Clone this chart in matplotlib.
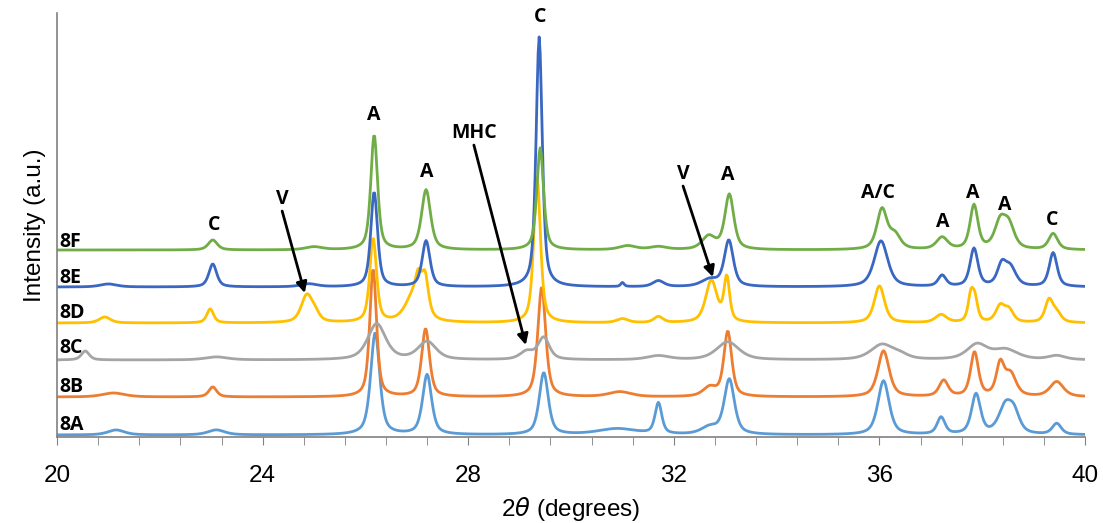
import numpy as np
import matplotlib
matplotlib.use("Agg")
import matplotlib.pyplot as plt

# peak tables: (2theta, height, half width); heights in plot units
samples = ["8A", "8B", "8C", "8D", "8E", "8F"]
colors = ["#5B9BD5", "#ED7D31", "#A5A5A5", "#FFC000", "#3A67C2", "#70AD47"]
offsets = [2, 40, 77, 114, 150, 187]

peaks_8A = [(21.15, 5, 0.15), (23.1, 5, 0.15), (26.19, 102, 0.08), (27.2, 60, 0.08),
            (29.47, 62, 0.08), (30.9, 6, 0.35), (31.7, 31, 0.06), (32.7, 7, 0.15),
            (33.08, 55, 0.09), (36.08, 54, 0.1), (37.2, 17, 0.07), (37.88, 40, 0.08),
            (38.45, 27, 0.12), (38.62, 18, 0.1), (39.45, 11, 0.08)]
peaks_8B = [(21.1, 4, 0.2), (23.03, 10, 0.07), (26.15, 128, 0.06), (27.17, 68, 0.07),
            (29.43, 110, 0.07), (30.95, 5, 0.2), (32.7, 9, 0.12), (33.05, 65, 0.07),
            (36.08, 46, 0.1), (37.25, 16, 0.08), (37.85, 44, 0.07), (38.35, 31, 0.07),
            (38.55, 22, 0.1), (39.45, 15, 0.12)]
peaks_8C = [(20.55, 9, 0.07), (23.1, 3, 0.2), (26.22, 36, 0.16), (27.2, 18, 0.16),
            (29.14, 8, 0.12), (29.47, 22, 0.1), (31.7, 4, 0.2), (33.05, 18, 0.2),
            (36.05, 15, 0.2), (36.4, 4, 0.15), (37.9, 15, 0.18), (38.45, 10, 0.22),
            (39.45, 4, 0.15)]
peaks_8D = [(20.93, 6, 0.1), (22.98, 14, 0.06), (24.86, 27, 0.1), (25.02, 7, 0.08),
            (26.15, 84, 0.06), (26.95, 28, 0.15), (27.03, 22, 0.05), (27.16, 36, 0.06),
            (29.34, 145, 0.06), (31.0, 4, 0.1), (31.7, 6, 0.08), (32.73, 42, 0.1),
            (33.03, 44, 0.05), (36.0, 37, 0.09), (37.2, 8, 0.1), (37.78, 26, 0.05),
            (37.86, 20, 0.05), (38.35, 16, 0.08), (38.52, 12, 0.08), (39.3, 22, 0.07),
            (39.45, 9, 0.08)]
peaks_8E = [(21.0, 3, 0.15), (23.03, 23, 0.07), (24.9, 3, 0.15), (26.17, 95, 0.06),
            (27.18, 46, 0.07), (29.38, 250, 0.055), (31.0, 4, 0.03), (31.7, 6, 0.1),
            (32.7, 7, 0.15), (33.07, 46, 0.08), (36.03, 46, 0.12), (37.22, 11, 0.07),
            (37.84, 38, 0.07), (38.38, 20, 0.08), (38.55, 18, 0.1), (39.38, 34, 0.07)]
peaks_8F = [(23.03, 10, 0.08), (25.0, 3, 0.15), (26.17, 115, 0.06), (27.18, 60, 0.08),
            (29.4, 102, 0.06), (31.1, 4, 0.15), (31.7, 3, 0.15), (32.68, 13, 0.12),
            (33.08, 55, 0.08), (36.05, 40, 0.09), (36.3, 14, 0.1), (37.22, 12, 0.1),
            (37.84, 44, 0.07), (38.35, 26, 0.1), (38.52, 22, 0.1), (39.38, 16, 0.08)]
peak_tables = [peaks_8A, peaks_8B, peaks_8C, peaks_8D, peaks_8E, peaks_8F]

# phase labels: (text, 2theta, height)
phase_labels = [("C", 23.05, 212), ("A", 26.17, 322), ("A", 27.2, 265), ("C", 29.4, 420),
                ("A", 33.05, 262), ("A/C", 35.97, 244), ("A", 37.24, 215),
                ("A", 37.82, 244), ("A", 38.44, 232), ("C", 39.36, 217)]
# arrows: (text, tail x, tail y, head x, head y)
arrow_labels = [("V", 24.38, 226, 24.82, 144), ("MHC", 28.11, 292, 29.12, 92),
                ("V", 32.18, 251, 32.76, 160)]
sample_label_y = [12, 50, 89, 124, 159, 195]

two_theta = np.arange(20, 40.001, 0.02)


def pattern(peaks):
    # pseudo-Voigt style: lorentzian plus a gaussian body so the peaks are not needle thin
    y = np.zeros_like(two_theta)
    for c, h, w in peaks:
        w = w * 1.3
        lor = 1 / (1 + ((two_theta - c) / w) ** 2)
        gau = np.exp(-np.log(2) * ((two_theta - c) / w) ** 2)
        y += h * (0.6 * lor + 0.4 * gau)
    return y


fig, ax = plt.subplots(figsize=(11.03, 5.23), dpi=100)
fig.subplots_adjust(left=0.0517, right=0.9837, bottom=0.1644, top=0.975)

for name, col, off, peaks in zip(samples, colors, offsets, peak_tables):
    ax.plot(two_theta, pattern(peaks) + off, color=col, lw=2)

lab_font = dict(family="Open Sans", weight="bold", fontsize=14)
for name, y in zip(samples, sample_label_y):
    ax.text(20.04, y, name, ha="left", va="center", **lab_font)
for txt, x, y in phase_labels:
    ax.text(x, y, txt, ha="center", va="center", **lab_font)
for txt, x0, y0, x1, y1 in arrow_labels:
    ax.annotate("", xy=(x1, y1), xytext=(x0, y0),
                arrowprops=dict(arrowstyle="-|>", color="black", lw=2,
                                mutation_scale=16, shrinkA=0, shrinkB=0))
    ax.text(x0, y0 + 12, txt, ha="center", va="center", **lab_font)

ax.set_xlim(20, 40)
ax.set_ylim(0, 424)
ax.set_xticks(np.arange(20, 40.01, 0.8), minor=True)
ax.set_xticks([20, 24, 28, 32, 36, 40])
ax.tick_params(axis="x", which="both", direction="out", length=6, color="#808080",
               labelsize=17.5, pad=14)
ax.set_yticks([])
for s in ["top", "right"]:
    ax.spines[s].set_visible(False)
for s in ["left", "bottom"]:
    ax.spines[s].set_color("#808080")
    ax.spines[s].set_linewidth(1.2)
for lbl in ax.get_xticklabels():
    lbl.set_family("Liberation Sans")

ax.set_xlabel(r"2$\theta$ (degrees)", fontsize=17.5, family="Liberation Sans", labelpad=6)
ax.set_ylabel("Intensity (a.u.)", fontsize=17.5, family="Liberation Sans", labelpad=8)

fig.savefig("out.png", dpi=100)
